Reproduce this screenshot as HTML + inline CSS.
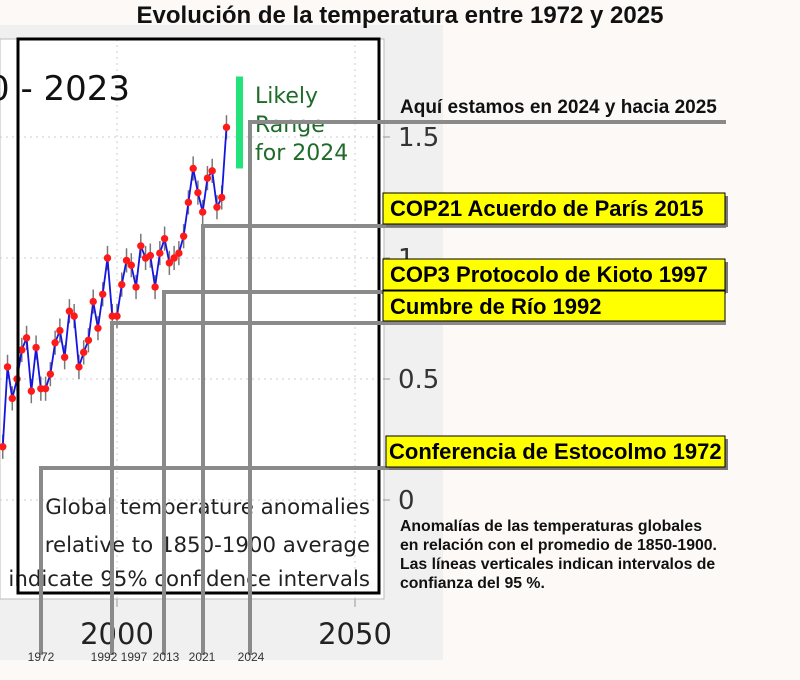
<!DOCTYPE html>
<html><head><meta charset="utf-8"><style>
body{margin:0;width:800px;height:680px;background:#fcf9f7;overflow:hidden;font-family:"Liberation Sans",sans-serif}
svg{display:block}
</style></head><body>
<svg width="800" height="680" viewBox="0 0 800 680">
<rect x="0" y="25" width="443" height="635" fill="#f0f0f0"/>
<rect x="0" y="39" width="384" height="560" fill="#ffffff" stroke="#bbb" stroke-width="1"/>
<g id="grid"></g>
<g id="ticks"></g>
<text x="-12" y="100" font-family="DejaVu Sans,sans-serif" font-size="34" fill="#111">0 - 2023</text>
<g id="series"></g>
<rect id="likely" x="236" width="7" fill="#22e27a"/>
<g font-family="DejaVu Sans,sans-serif" font-size="22" fill="#1e6b2a">
<text x="255" y="103">Likely</text><text x="255" y="132">Range</text><text x="255" y="160">for 2024</text></g>
<g font-family="DejaVu Sans,sans-serif" font-size="21.3" fill="#222" text-anchor="end">
<text x="370" y="514">Global temperature anomalies</text>
<text x="370" y="552">relative to 1850-1900 average</text>
<text x="370" y="586">indicate 95% confidence intervals</text></g>
<rect x="18" y="39" width="361" height="554" fill="none" stroke="#000" stroke-width="3"/>
<g stroke="#8a8a8a" stroke-width="4" fill="none">
<polyline points="250,655 250,122 726,122"/>
<polyline points="203,655 203,226 726,226"/>
<polyline points="164,655 164,292 726,292"/>
<polyline points="112,655 112,323 726,323"/>
<polyline points="41,655 41,468 726,468"/>
</g>
<g font-size="12" fill="#333" text-anchor="middle">
<text x="41" y="661">1972</text><text x="104" y="661">1992</text><text x="134" y="661">1997</text><text x="166" y="661">2013</text><text x="202" y="661">2021</text><text x="251" y="661">2024</text></g>
<text x="400" y="23" text-anchor="middle" font-weight="bold" font-size="24" fill="#111">Evolución de la temperatura entre 1972 y 2025</text>
<text x="400" y="113" font-weight="bold" font-size="19" fill="#111">Aquí estamos en 2024 y hacia 2025</text>
<g font-weight="bold" font-size="22" fill="#000">
<rect x="386" y="196" width="342" height="31" fill="#777"/><rect x="383" y="193" width="342" height="31" fill="#ffff00" stroke="#000"/><text x="390" y="216">COP21 Acuerdo de París 2015</text>
<rect x="386" y="262" width="342" height="31" fill="#777"/><rect x="383" y="259" width="342" height="31" fill="#ffff00" stroke="#000"/><text x="390" y="282">COP3 Protocolo de Kioto 1997</text>
<rect x="383" y="291" width="342" height="30" fill="#ffff00" stroke="#000"/><text x="390" y="314">Cumbre de Río 1992</text>
<rect x="389" y="439" width="339" height="31" fill="#777"/><rect x="386" y="436" width="339" height="31" fill="#ffff00" stroke="#000"/><text x="389" y="459">Conferencia de Estocolmo 1972</text>
</g>
<g font-weight="bold" font-size="15.8" fill="#111">
<text x="400" y="531">Anomalías de las temperaturas globales</text>
<text x="400" y="550">en relación con el promedio de 1850-1900.</text>
<text x="400" y="569">Las líneas verticales indican intervalos de</text>
<text x="400" y="588">confianza del 95 %.</text></g>
</svg>
<script>
const years=[1976,1977,1978,1979,1980,1981,1982,1983,1984,1985,1986,1987,1988,1989,1990,1991,1992,1993,1994,1995,1996,1997,1998,1999,2000,2001,2002,2003,2004,2005,2006,2007,2008,2009,2010,2011,2012,2013,2014,2015,2016,2017,2018,2019,2020,2021,2022,2023];
const anomalies=[0.22,0.55,0.42,0.50,0.62,0.67,0.45,0.63,0.46,0.46,0.52,0.65,0.70,0.59,0.78,0.76,0.55,0.61,0.66,0.82,0.71,0.85,1.00,0.76,0.76,0.89,0.99,0.97,0.88,1.05,1.00,1.01,0.88,1.02,1.08,0.98,1.00,1.02,1.09,1.23,1.37,1.27,1.19,1.33,1.36,1.21,1.25,1.54];
const likelyRange=[1.37,1.75];
const yTicks=[0,0.5,1,1.5];
const yTickLabels=["0","0.5","1","1.5"];
const xTicks=[2000,2050];
const xTickLabels=["2000","2050"];
const X=y=>117+(y-2000)*4.76;
const Y=v=>500-v*242;
const NS="http://www.w3.org/2000/svg";
function mk(tag,attrs,parent){const e=document.createElementNS(NS,tag);for(const k in attrs)e.setAttribute(k,attrs[k]);parent.appendChild(e);return e;}
const grid=document.getElementById('grid'),ticks=document.getElementById('ticks'),ser=document.getElementById('series');
yTicks.forEach((t,i)=>{
 const g=mk('line',{x1:0,x2:383,y1:Y(t),y2:Y(t),stroke:'#ccc','stroke-dasharray':'2,4'},grid);
 
 
 mk('line',{x1:383,x2:390,y1:Y(t),y2:Y(t),stroke:'#999'},ticks);
 const tx=mk('text',{x:398,y:Y(t)+9,'font-family':'DejaVu Sans,sans-serif','font-size':26,fill:'#333'},ticks);
 tx.textContent=yTickLabels[i];
 
 
});
xTicks.forEach((t,i)=>{
 const g=mk('line',{x1:X(t),x2:X(t),y1:39,y2:599,stroke:'#ccc','stroke-dasharray':'2,4'},grid);
 
 
 mk('line',{x1:X(t),x2:X(t),y1:599,y2:607,stroke:'#999'},ticks);
 const tx=mk('text',{x:X(t),y:644,'text-anchor':'middle','font-family':'DejaVu Sans,sans-serif','font-size':29,fill:'#222'},ticks);
 tx.textContent=xTickLabels[i];
 
 
});
years.forEach((y,i)=>{
 const e=mk('line',{x1:X(y),x2:X(y),y1:Y(anomalies[i]+0.05),y2:Y(anomalies[i]-0.05),stroke:'#777','stroke-width':1.5},ser);
 
 
});
const pl=mk('polyline',{points:years.map((y,i)=>X(y)+','+Y(anomalies[i])).join(' '),fill:'none',stroke:'#1515e0','stroke-width':1.8},ser);


years.forEach((y,i)=>{
 const c=mk('circle',{cx:X(y),cy:Y(anomalies[i]),r:3.7,fill:'#ff1a1a'},ser);
 
 
});
const lr=document.getElementById('likely');
lr.setAttribute('y',Y(likelyRange[1]));
lr.setAttribute('height',Y(likelyRange[0])-Y(likelyRange[1]));
</script>
</body></html>
